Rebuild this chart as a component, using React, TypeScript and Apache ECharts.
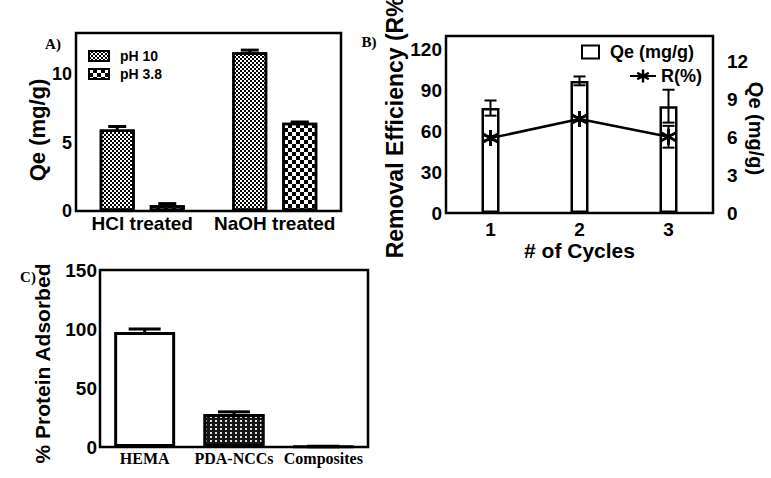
import React, { useEffect, useRef } from 'react';
import * as echarts from 'echarts';

// ---------- Panel A data ----------
const catsA = ['HCl treated', 'NaOH treated'];
const nameA1 = 'pH 10';
const nameA2 = 'pH 3.8';
const qeA_pH10 = [5.95, 11.6];
const qeA_pH38 = [0.42, 6.45];
const errA_pH10 = [0.22, 0.15];
const errA_pH38 = [0.12, 0.05];
const ticksA = { min: 0, max: 13, interval: 5 };

// ---------- Panel B data ----------
const cyclesB = ['1', '2', '3'];
const nameB1 = 'Qe (mg/g)';
const nameB2 = 'R(%)';
const qeB = [8.3, 10.45, 8.45];
const qeBErr = [0.6, 0.35, 1.3];
const rB = [55, 69, 56];
const rBErr = [1.5, 1.5, 8];
const ticksBLeft = { min: 0, max: 130, interval: 30 };
const ticksBRight = { min: 0, max: 14, interval: 3 };

// ---------- Panel C data ----------
const catsC = ['HEMA', 'PDA-NCCs', 'Composites'];
const protC = [97.5, 28, 0.4];
const protCErr = [2.5, 1.8, 0.2];
const ticksC = { min: 0, max: 150, interval: 50 };

const SANS = '"Liberation Sans", Arial, Helvetica, sans-serif';
const SERIF = '"Liberation Serif", "Times New Roman", serif';

function asteriskPath(): string {
  const L = 10;
  const w = 1.8;
  let d = '';
  for (const deg of [90, 30, -30]) {
    const t = (deg * Math.PI) / 180;
    const dx = Math.cos(t);
    const dy = Math.sin(t);
    const nx = -dy;
    const ny = dx;
    const pts = [
      [dx * L + nx * w, dy * L + ny * w],
      [dx * L - nx * w, dy * L - ny * w],
      [-dx * L - nx * w, -dy * L - ny * w],
      [-dx * L + nx * w, -dy * L + ny * w],
    ];
    d += 'M' + pts.map((p) => p[0].toFixed(2) + ',' + p[1].toFixed(2)).join('L') + 'Z';
  }
  return 'path://' + d;
}

function checker(s: number, fg: string, bg: string) {
  return {
    symbol: 'rect',
    symbolSize: 1,
    dashArrayX: [[s, s], [0, s, s, 0]],
    dashArrayY: [s, 0],
    color: fg,
    backgroundColor: bg,
  };
}

const decalFine = checker(2, '#000', '#fff');
const decalCoarse = checker(3.5, '#000', '#fff');
const decalPDA = {
  symbol: 'rect',
  symbolSize: 1,
  dashArrayX: [2, 3],
  dashArrayY: [2, 2],
  color: '#e0e0e0',
  backgroundColor: '#151515',
};

function errSeries(
  xi: number,
  yi: number,
  vals: number[],
  errs: number[],
  offset: number,
  halfCap: number,
  lw: number,
  z: number
) {
  return {
    type: 'custom',
    xAxisIndex: xi,
    yAxisIndex: yi,
    z,
    silent: true,
    encode: { x: 0, y: 1 },
    data: vals.map((v, i) => [i, v, errs[i]]),
    renderItem: (_params: any, api: any) => {
      const xv = api.value(0);
      const v = api.value(1);
      const e = api.value(2);
      const top = api.coord([xv, v + e]);
      const bot = api.coord([xv, Math.max(0, v - e)]);
      const cx = top[0] + offset;
      const style = { stroke: '#000', lineWidth: lw };
      return {
        type: 'group',
        children: [
          { type: 'line', shape: { x1: cx, y1: top[1], x2: cx, y2: bot[1] }, style },
          { type: 'line', shape: { x1: cx - halfCap, y1: top[1], x2: cx + halfCap, y2: top[1] }, style },
          { type: 'line', shape: { x1: cx - halfCap, y1: bot[1], x2: cx + halfCap, y2: bot[1] }, style },
        ],
      };
    },
  };
}

const gridBase = {
  show: true,
  borderColor: '#000',
  borderWidth: 2.5,
  backgroundColor: 'transparent',
  containLabel: false,
  outerBoundsMode: 'none',
};

function catAxis(gi: number, data: string[], fontSize: number, margin: number, family: string, extra: any = {}) {
  return {
    type: 'category',
    gridIndex: gi,
    data,
    axisLine: { show: false },
    axisTick: { show: false },
    splitLine: { show: false },
    axisLabel: { color: '#000', fontFamily: family, fontWeight: 'bold', fontSize, margin, interval: 0 },
    ...extra,
  };
}

function valAxis(gi: number, t: { min: number; max: number; interval: number }, fontSize: number, margin: number, extra: any = {}) {
  return {
    type: 'value',
    gridIndex: gi,
    min: t.min,
    max: t.max,
    interval: t.interval,
    axisLine: { show: false },
    axisTick: { show: false },
    splitLine: { show: false },
    axisLabel: {
      color: '#000',
      fontFamily: SANS,
      fontWeight: 'bold',
      fontSize,
      margin,
      formatter: (v: number) => (Math.abs(v % t.interval) < 1e-9 ? String(v) : ''),
    },
    ...extra,
  };
}

const nameStyle = (fontSize: number, padding: number[]) => ({
  color: '#000',
  fontFamily: SANS,
  fontWeight: 'bold',
  fontSize,
  padding,
});

export default function App() {
  const ref = useRef<HTMLDivElement>(null);

  useEffect(() => {
    if (!ref.current) return;
    const chart = echarts.init(ref.current, undefined, { renderer: 'svg' });
    const ast = asteriskPath();

    const option: any = {
      animation: false,
      backgroundColor: '#fff',
      grid: [
        { ...gridBase, left: 76, top: 33, width: 265, height: 178 },
        { ...gridBase, left: 446, top: 36, width: 267, height: 177 },
        { ...gridBase, left: 100, top: 270, width: 268, height: 177 },
      ],
      xAxis: [
        catAxis(0, catsA, 19, 3, SANS),
        catAxis(1, cyclesB, 19, 7, SANS, {
          name: '# of Cycles',
          nameLocation: 'middle',
          nameGap: 27,
          nameTextStyle: nameStyle(21, [0, 0, 0, 0]),
        }),
        catAxis(2, catsC, 16, 3, SERIF),
      ],
      yAxis: [
        valAxis(0, ticksA, 18, 4, {
          name: 'Qe (mg/g)',
          nameLocation: 'middle',
          nameGap: 26,
          nameTextStyle: nameStyle(22, [0, 16, 0, 0]),
        }),
        valAxis(1, ticksBLeft, 19, 4, {
          position: 'left',
          name: 'Removal Efficiency (R%)',
          nameLocation: 'middle',
          nameGap: 37,
          nameTextStyle: nameStyle(23, [0, 0, 0, 2]),
        }),
        valAxis(1, ticksBRight, 19, 14, {
          position: 'right',
          name: 'Qe (mg/g)',
          nameLocation: 'middle',
          nameRotate: -90,
          nameMoveOverlap: false,
          nameGap: 33,
          nameTextStyle: nameStyle(20, [0, 0, 0, 8]),
        }),
        valAxis(2, ticksC, 19, 3, {
          name: '% Protein Adsorbed',
          nameLocation: 'middle',
          nameGap: 47,
          nameTextStyle: nameStyle(21, [0, 10, 0, 0]),
        }),
      ],
      legend: [
        {
          left: 83,
          top: 44,
          data: [nameA1],
          icon: 'rect',
          itemWidth: 20,
          itemHeight: 10,
          selectedMode: false,
          itemStyle: { borderColor: '#000', borderWidth: 2 },
          textStyle: { color: '#000', fontFamily: SANS, fontWeight: 'bold', fontSize: 14, padding: [0, 0, 0, 6] },
        },
        {
          left: 83,
          top: 62,
          data: [nameA2],
          icon: 'rect',
          itemWidth: 20,
          itemHeight: 10,
          selectedMode: false,
          itemStyle: { borderColor: '#000', borderWidth: 2 },
          textStyle: { color: '#000', fontFamily: SANS, fontWeight: 'bold', fontSize: 14, padding: [0, 0, 0, 6] },
        },
        {
          left: 576,
          top: 38,
          data: [nameB1],
          icon: 'rect',
          itemWidth: 17,
          itemHeight: 13,
          selectedMode: false,
          itemStyle: { color: '#fff', borderColor: '#000', borderWidth: 2 },
          textStyle: { color: '#000', fontFamily: SANS, fontWeight: 'bold', fontSize: 18, padding: [0, 0, 0, 6] },
        },
        {
          left: 624,
          top: 62,
          data: [nameB2],
          itemWidth: 26,
          itemHeight: 16,
          selectedMode: false,
          textStyle: { color: '#000', fontFamily: SANS, fontWeight: 'bold', fontSize: 18 },
        },
      ],
      series: [
        // Panel A
        errSeries(0, 0, qeA_pH10, errA_pH10, -25, 9, 3, 1),
        errSeries(0, 0, qeA_pH38, errA_pH38, 25, 9, 3, 1),
        {
          type: 'bar',
          name: nameA1,
          xAxisIndex: 0,
          yAxisIndex: 0,
          data: qeA_pH10,
          barWidth: 35,
          barGap: '43%',
          z: 3,
          itemStyle: { color: '#fff', borderColor: '#000', borderWidth: 2.5, decal: decalFine },
        },
        {
          type: 'bar',
          name: nameA2,
          xAxisIndex: 0,
          yAxisIndex: 0,
          data: qeA_pH38,
          barWidth: 35,
          barGap: '43%',
          z: 3,
          itemStyle: { color: '#fff', borderColor: '#000', borderWidth: 2.5, decal: decalCoarse },
        },
        // Panel B
        {
          type: 'bar',
          name: nameB1,
          xAxisIndex: 1,
          yAxisIndex: 2,
          data: qeB,
          barWidth: 18,
          z: 2,
          itemStyle: { color: '#fff', borderColor: '#000', borderWidth: 2.5 },
        },
        errSeries(1, 2, qeB, qeBErr, 0, 6, 2, 3),
        errSeries(1, 1, rB, rBErr, 0, 6, 2, 3),
        {
          type: 'line',
          name: nameB2,
          xAxisIndex: 1,
          yAxisIndex: 1,
          data: rB,
          symbol: ast,
          symbolSize: 16,
          z: 5,
          lineStyle: { color: '#000', width: 2.5 },
          itemStyle: { color: '#000' },
        },
        // Panel C
        errSeries(2, 3, protC, protCErr, 0, 16, 3, 1),
        {
          type: 'bar',
          xAxisIndex: 2,
          yAxisIndex: 3,
          data: protC.map((v, i) =>
            i === 1 ? { value: v, itemStyle: { color: '#151515', decal: decalPDA } } : v
          ),
          barWidth: 61,
          z: 3,
          itemStyle: { color: '#fff', borderColor: '#000', borderWidth: 3 },
        },
      ],
      graphic: [
        { type: 'text', x: 53, y: 44, style: { text: 'A)', font: 'bold 15px ' + SERIF, fill: '#000', align: 'center', verticalAlign: 'middle' } },
        { type: 'text', x: 369, y: 42, style: { text: 'B)', font: 'bold 15px ' + SERIF, fill: '#000', align: 'center', verticalAlign: 'middle' } },
        { type: 'text', x: 28, y: 277, style: { text: 'C)', font: 'bold 15px ' + SERIF, fill: '#000', align: 'center', verticalAlign: 'middle' } },
      ],
    };

    chart.setOption(option);
    return () => chart.dispose();
  }, []);

  return (
    <div
      ref={ref}
      style={{ position: 'fixed', left: 0, top: 0, width: 771, height: 478, background: '#fff' }}
    />
  );
}
